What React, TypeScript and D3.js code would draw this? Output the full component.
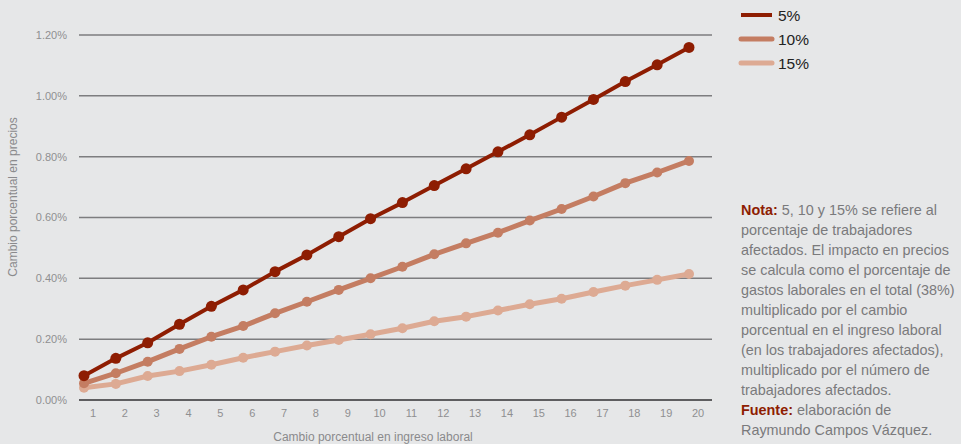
import React from "react";
import * as d3 from "d3";

const xValues = [1, 2, 3, 4, 5, 6, 7, 8, 9, 10, 11, 12, 13, 14, 15, 16, 17, 18, 19, 20];
const series5 = [0.080, 0.137, 0.188, 0.249, 0.308, 0.362, 0.422, 0.477, 0.537, 0.596, 0.649, 0.705, 0.760, 0.816, 0.872, 0.930, 0.988, 1.047, 1.102, 1.159];
const series10 = [0.055, 0.088, 0.126, 0.168, 0.208, 0.243, 0.285, 0.323, 0.362, 0.400, 0.438, 0.479, 0.515, 0.550, 0.590, 0.628, 0.669, 0.713, 0.748, 0.786];
const series15 = [0.040, 0.053, 0.079, 0.095, 0.116, 0.139, 0.159, 0.179, 0.197, 0.216, 0.236, 0.259, 0.274, 0.294, 0.315, 0.333, 0.355, 0.376, 0.395, 0.414];
const seriesNames = ["5%", "10%", "15%"];
const yTicks = [0, 0.2, 0.4, 0.6, 0.8, 1.0, 1.2];

const colors = ["#8E1D02", "#C47D62", "#DDAA93"];
const lineWidths = [4, 5, 5];
const radii = [5.5, 5, 5];

const noteLines: { bold?: string; text: string }[] = [
  { bold: "Nota:", text: " 5, 10 y 15% se refiere al" },
  { text: "porcentaje de trabajadores" },
  { text: "afectados. El impacto en precios" },
  { text: "se calcula como el porcentaje de" },
  { text: "gastos laborales en el total (38%)" },
  { text: "multiplicado por el cambio" },
  { text: "porcentual en el ingreso laboral" },
  { text: "(en los trabajadores afectados)," },
  { text: "multiplicado por el número de" },
  { text: "trabajadores afectados." },
  { bold: "Fuente:", text: " elaboración de" },
  { text: "Raymundo Campos Vázquez." },
];

export default function App() {
  const W = 961, H = 444;
  const font = "'Liberation Sans', Arial, Helvetica, sans-serif";
  const x = d3.scaleLinear().domain([1, 20]).range([84, 689]);
  const y = d3.scaleLinear().domain([0, 1.2]).range([400, 35]);
  const allSeries = [series5, series10, series15];
  const line = d3
    .line<number>()
    .x((_, i) => x(xValues[i]))
    .y((d) => y(d));

  return (
    <svg
      width={W}
      height={H}
      style={{ position: "absolute", left: 0, top: 0, background: "#E6E7E8" }}
      fontFamily={font}
    >
      <rect x={0} y={0} width={W} height={H} fill="#E6E7E8" />
      {yTicks.map((t) => (
        <g key={t}>
          {t !== 0 && (
            <line x1={79} x2={712} y1={y(t)} y2={y(t)} stroke="#7d7d7f" strokeWidth={1.5} />
          )}
          <text
            x={67}
            y={y(t)}
            dy="0.35em"
            textAnchor="end"
            fontSize={11}
            fill="#8f8f91"
          >
            {t.toFixed(2) + "%"}
          </text>
        </g>
      ))}
      <line x1={79} x2={712} y1={y(0)} y2={y(0)} stroke="#5e5e60" strokeWidth={2.2} />
      {xValues.map((v) => (
        <text
          key={v}
          x={x(v) + 9}
          y={413}
          dy="0.35em"
          textAnchor="middle"
          fontSize={11}
          fill="#8f8f91"
        >
          {v}
        </text>
      ))}
      <text
        transform={`translate(17,197) rotate(-90)`}
        textAnchor="middle"
        fontSize={12}
        fill="#8a8a8c"
      >
        Cambio porcentual en precios
      </text>
      <text x={373} y={441} textAnchor="middle" fontSize={12} fill="#8a8a8c">
        Cambio porcentual en ingreso laboral
      </text>
      {allSeries
        .map((s, k) => ({ s, k }))
        .reverse()
        .map(({ s, k }) => (
          <g key={k}>
            <path
              d={line(s) || ""}
              fill="none"
              stroke={colors[k]}
              strokeWidth={lineWidths[k]}
              strokeLinejoin="round"
              strokeLinecap="round"
            />
            {s.map((d, i) => (
              <circle key={i} cx={x(xValues[i])} cy={y(d)} r={radii[k]} fill={colors[k]} />
            ))}
          </g>
        ))}
      {seriesNames.map((n, k) => (
        <g key={n}>
          <line
            x1={741}
            x2={772}
            y1={15 + k * 24}
            y2={15 + k * 24}
            stroke={colors[k]}
            strokeWidth={k === 0 ? 4 : 5}
            strokeLinecap={k === 0 ? "butt" : "round"}
          />
          <text x={778} y={15 + k * 24} dy="0.36em" fontSize={15.5} fill="#222">
            {n}
          </text>
        </g>
      ))}
      {noteLines.map((l, i) => (
        <text key={i} x={741} y={215 + i * 20} fontSize={14.4} fill="#7a7a7c">
          {l.bold && (
            <tspan fontWeight="bold" fill="#8E1D02">
              {l.bold}
            </tspan>
          )}
          {l.text}
        </text>
      ))}
    </svg>
  );
}
